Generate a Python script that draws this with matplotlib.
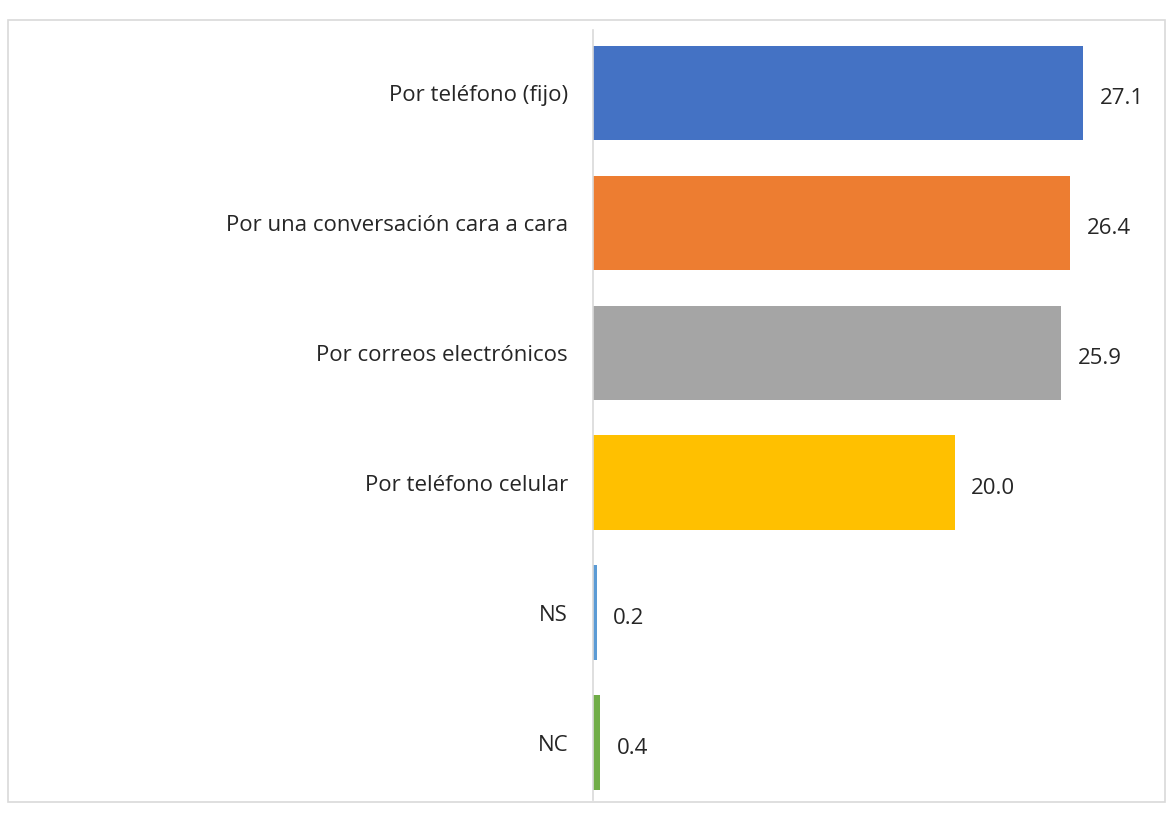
import matplotlib
matplotlib.use("Agg")
import matplotlib.pyplot as plt
from matplotlib.patches import Rectangle

categories = ["Por teléfono (fijo)", "Por una conversación cara a cara",
              "Por correos electrónicos", "Por teléfono celular", "NS", "NC"]
values = [27.1, 26.4, 25.9, 20.0, 0.2, 0.4]
colors = ["#4472C4", "#ED7D31", "#A5A5A5", "#FFC000", "#5B9BD5", "#70AD47"]

plt.rcParams['font.family'] = ['Open Sans', 'DejaVu Sans']

fig = plt.figure(figsize=(11.7, 8.27), dpi=100)
fig.patches.append(Rectangle((8/1170, 1-802/827), 1157/1170, 782/827,
                             transform=fig.transFigure, fill=False,
                             edgecolor="#D9D9D9", linewidth=1.2))
ax = fig.add_axes([593/1170, 1-800/827, 567/1170, 770/827])
pos = list(range(len(categories)))
ax.barh(pos, values, height=0.73, color=colors)
for p, v in zip(pos, values):
    ax.annotate(f"{v:.1f}", (v, p), xytext=(12, -4), textcoords="offset points",
                va="center", ha="left", fontsize=16, color="#262626")
ax.set_yticks(pos)
ax.set_yticklabels(categories, fontsize=16, color="#262626")
for t in ax.get_yticklabels():
    t.set_y(t.get_position()[1])
ax.set_ylim(5.44, -0.485)
ax.set_xlim(0, 31.36)
ax.set_xticks([])
ax.tick_params(axis="y", length=0, pad=18)
for s in ["top", "right", "bottom"]:
    ax.spines[s].set_visible(False)
ax.spines["left"].set_color("#D9D9D9")
ax.spines["left"].set_linewidth(1.2)
fig.savefig("out.png", dpi=100)
